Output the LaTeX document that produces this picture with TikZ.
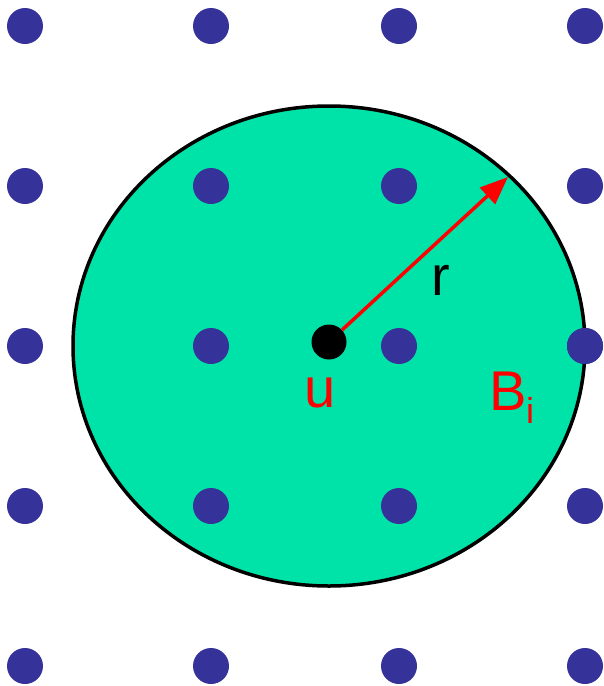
\documentclass[tikz,border=0pt]{standalone}
\usepackage{fontspec}
\setmainfont{Liberation Sans}
\usetikzlibrary{arrows.meta}
\definecolor{dotblue}{RGB}{53,51,153}
\definecolor{ballgreen}{RGB}{0,227,168}
\begin{document}
\begin{tikzpicture}[x=1pt,y=-1pt,
  gridpt/.style={circle,fill=dotblue,minimum size=36pt,inner sep=0pt},
  centerpt/.style={circle,fill=black,minimum size=35pt,inner sep=0pt},
  lbl/.style={font=\fontsize{56}{60}\selectfont,inner sep=0pt}]
\useasboundingbox (0,0) rectangle (603,686);
\fill[ballgreen] (329,346) ellipse [x radius=256, y radius=240];
\foreach \i/\x in {1/25,2/211,3/399,4/585}{
  \foreach \j/\y in {1/26,2/186,3/346,4/506,5/666}{
    \node[gridpt] (g\i\j) at (\x,\y) {};
  }
}
\draw[black,line width=3.5pt] (329,346) ellipse [x radius=256, y radius=240];
\node[gridpt] at (585,346) {};
\node[centerpt] (u) at (329,342) {};
\coordinate (tip) at (508,177);
\draw[red,line width=3.5pt,-{Triangle[length=28pt,width=22pt]}] (u) -- (tip);
\node[lbl,anchor=base] (rl) at (441,295) {r};
\node[lbl,anchor=base,text=red] (ul) at (320,407) {u};
\node[lbl,anchor=base,text=red] (bl) at (508,410) {B};
\node[inner sep=0pt,anchor=base west,text=red,font=\fontsize{36}{40}\selectfont] (il) at (526,423) {i};
\end{tikzpicture}
\end{document}
